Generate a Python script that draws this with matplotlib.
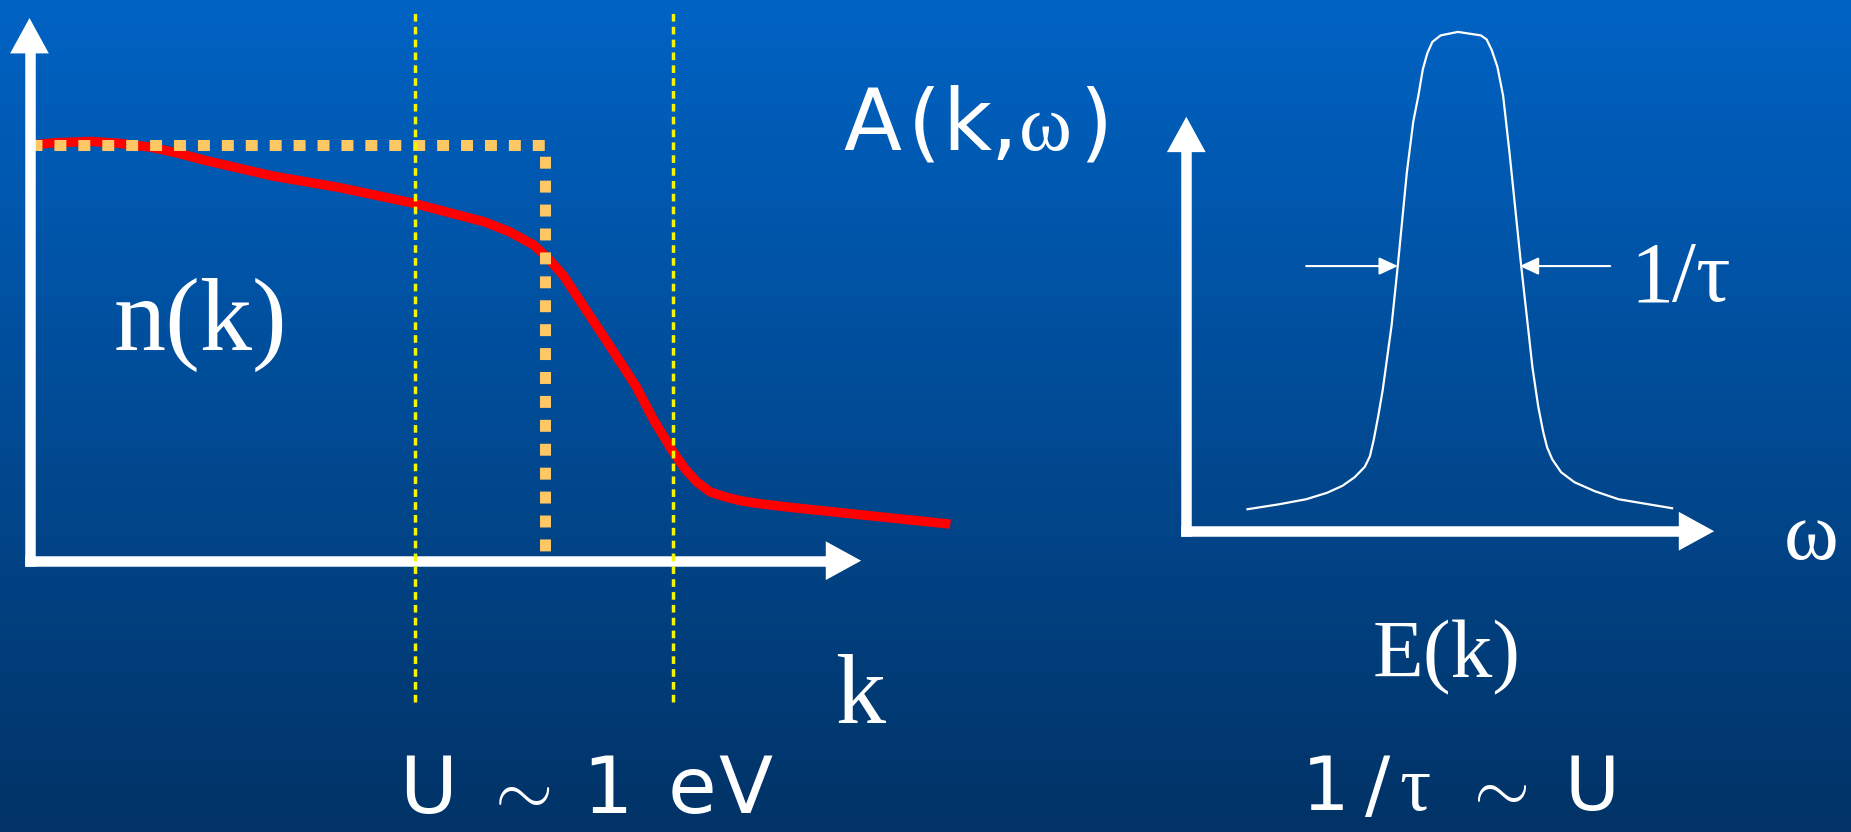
import numpy as np
import matplotlib.pyplot as plt
from matplotlib.colors import LinearSegmentedColormap

plt.rcParams['mathtext.fontset'] = 'cm'

W, H = 1851, 832

# momentum distribution n(k), k in units of k_F
k_vals = [0.0, 0.05, 0.119, 0.17, 0.236, 0.29, 0.342, 0.471, 0.601, 0.742,
          0.883, 0.93, 0.977, 1.005, 1.035, 1.07, 1.118, 1.176, 1.211, 1.247,
          1.27, 1.294, 1.32, 1.353, 1.38, 1.411, 1.470, 1.646, 1.785]
n_vals = [1.0, 1.006, 1.009, 1.005, 0.995, 0.98, 0.963, 0.926, 0.898, 0.861,
          0.815, 0.792, 0.760, 0.728, 0.686, 0.620, 0.530, 0.419, 0.336, 0.263,
          0.222, 0.189, 0.165, 0.152, 0.144, 0.138, 0.129, 0.106, 0.088]

# free-electron Fermi step
step_k = [0.0, 1.0, 1.0]
step_n = [1.0, 1.0, 0.0]

# window of width U around k_F
u_lines_k = [0.748, 1.247]
u_lines_n = [-0.34, 1.327]

# quasiparticle peak A(k, w)
w_vals = [-3.30, -2.80, -2.38, -2.05, -1.81, -1.62, -1.46, -1.38, -1.32, -1.25,
          -1.18, -1.04, -0.94, -0.80, -0.70, -0.62, -0.55, -0.48, -0.40, -0.27,
          0.0, 0.36, 0.45, 0.53, 0.62, 0.71, 0.81, 0.99, 1.17, 1.26,
          1.34, 1.40, 1.48, 1.62, 1.83, 2.15, 2.52, 3.36]
a_vals = [0.044, 0.054, 0.064, 0.077, 0.091, 0.108, 0.129, 0.150, 0.183, 0.230,
          0.282, 0.412, 0.535, 0.719, 0.820, 0.872, 0.925, 0.957, 0.980, 0.993,
          1.0, 0.993, 0.985, 0.964, 0.930, 0.872, 0.758, 0.535, 0.328, 0.250,
          0.198, 0.168, 0.144, 0.118, 0.098, 0.080, 0.064, 0.046]

# width markers 1/tau
width_level = 0.531
width_left = [-2.38, -0.94]
width_right = [2.39, 0.97]

fig = plt.figure(figsize=(W / 100, H / 100), dpi=100)

# slide background
bg = fig.add_axes([0, 0, 1, 1])
cmap = LinearSegmentedColormap.from_list('slide', ['#0063C4', '#023366'])
bg.imshow(np.linspace(0, 1, 256).reshape(-1, 1), cmap=cmap, aspect='auto',
          extent=[0, 1, 0, 1], origin='upper')
bg.axis('off')


def px_axes(x0, y0, x1, y1):
    # box given in pixels, y counted from the top
    ax = fig.add_axes([x0 / W, 1 - y0 / H, (x1 - x0) / W, (y0 - y1) / H])
    ax.axis('off')
    return ax


def axis_arrow(ax, start, tip, lw_px=10.5, head_len=31, head_half=17):
    tr = ax.transData
    p0 = tr.transform(start)
    p1 = tr.transform(tip)
    d = (p1 - p0) / np.hypot(*(p1 - p0))
    base = tr.inverted().transform(p1 - d * head_len)
    ax.plot([start[0], base[0]], [start[1], base[1]], color='white',
            lw=lw_px * 0.72, solid_capstyle='projecting', clip_on=False, zorder=5)
    side = np.hypot(head_len, head_half) * 0.72
    ax.annotate('', xy=tip, xytext=base, annotation_clip=False,
                arrowprops=dict(arrowstyle=f'-|>,head_length=1,head_width={head_half / head_len:.3f}',
                                mutation_scale=side, lw=0, color='white',
                                shrinkA=0, shrinkB=0), zorder=5)


# left panel: n(k)
ax1 = px_axes(29.5, 560.7, 545.4, 145.2)
ax1.set_xlim(0, 1)
ax1.set_ylim(0, 1)
ax1.plot(k_vals, n_vals, color='#FF0000', lw=6.8, solid_joinstyle='round',
         solid_capstyle='butt', clip_on=False, zorder=2)
ax1.plot(step_k, step_n, color='#FFC864', lw=7.9, dashes=(1.09, 1.09),
         dash_capstyle='butt', clip_on=False, zorder=3)
for k in u_lines_k:
    ax1.plot([k, k], u_lines_n, color='#F5F500', lw=2.5, dashes=(2.2, 1.5),
             clip_on=False, zorder=6)
axis_arrow(ax1, (0, 0), (1.612, 0))
axis_arrow(ax1, (0, 0), (0, 1.306))

# right panel: A(k, w)
ax2 = px_axes(1186.3, 531.2, 1711.6, 31.9)
ax2.set_xlim(-4.26, 3.98)
ax2.set_ylim(0, 1)
ax2.plot(w_vals, a_vals, color='white', lw=1.6, solid_joinstyle='round',
         clip_on=False, zorder=2)
for x0, x1 in (width_left, width_right):
    ax2.annotate('', xy=(x1, width_level), xytext=(x0, width_level),
                 annotation_clip=False,
                 arrowprops=dict(arrowstyle='-|>,head_length=1,head_width=0.465',
                                 mutation_scale=11.5, lw=1.5, color='white',
                                 shrinkA=0, shrinkB=0))
axis_arrow(ax2, (-4.26, 0), (4.02, 0))
axis_arrow(ax2, (-4.26, 0), (-4.26, 0.83))

serif = 'Liberation Serif'
sans = 'DejaVu Sans'


def label(x, y, s, size, family, ha='center'):
    fig.text(x / W, 1 - y / H, s, fontsize=size, family=family, color='white',
             ha=ha, va='baseline')


label(114, 350, 'n(k)', 75, serif, ha='left')
label(860, 723, 'k', 72, serif)
label(1447, 677, 'E(k)', 60, serif)
label(1811, 559, 'ω', 60, serif)
for x, s in ((1652, '1'), (1684, '/'), (1712, 'τ')):
    label(x, 301, s, 62, serif)

# A(k,w) title
for x, s in ((872, 'A'), (924, '('), (967, 'k'), (1004, ','), (1096, ')')):
    label(x, 150, s, 61, sans)
label(1045, 150, 'ω', 58, serif)

# U ~ 1 eV
for x, s in ((428, 'U'), (607, '1'), (692, 'e'), (745, 'V')):
    label(x, 813, s, 57, sans)
label(516, 813, r'$\sim$', 54, sans)

# 1/tau ~ U
for x, s in ((1326, '1'), (1378, '/'), (1592, 'U')):
    label(x, 810, s, 54, sans)
label(1415, 810, 'τ', 56, serif)
label(1494, 810, r'$\sim$', 52, sans)

fig.savefig('out.png', dpi=100)
